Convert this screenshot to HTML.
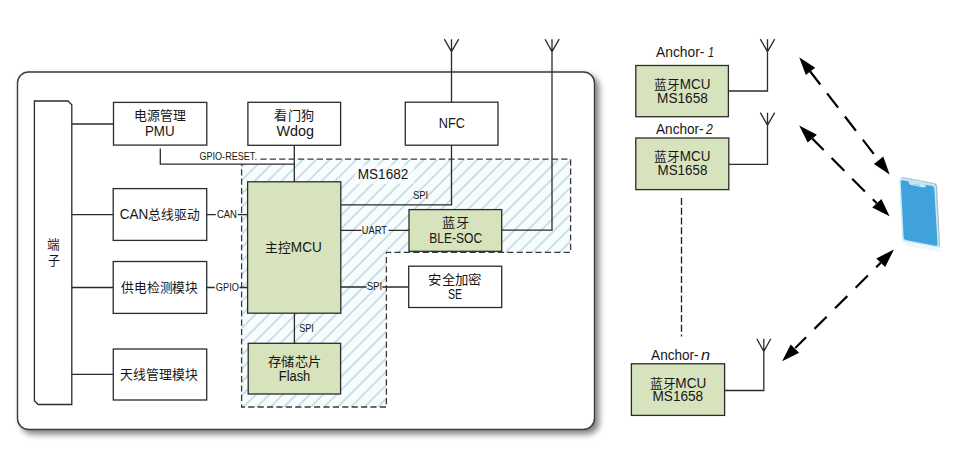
<!DOCTYPE html>
<html lang="zh-CN">
<head>
<meta charset="utf-8">
<style>
html,body{margin:0;padding:0;background:#fff;}
body{width:977px;height:457px;overflow:hidden;position:relative;font-family:"Liberation Sans",sans-serif;}
svg{position:absolute;left:0;top:0;}
svg text{font-family:"Liberation Sans",sans-serif;fill:#161616;}
.bx{fill:#fff;stroke:#2b2b2b;stroke-width:1.3;}
.gb{fill:#d7e3bd;stroke:#2b2b2b;stroke-width:1.3;}
.ln{fill:none;stroke:#2b2b2b;stroke-width:1.3;}
</style>
</head>
<body>
<svg width="977" height="457" viewBox="0 0 977 457">
<defs>
<pattern id="hatch" patternUnits="userSpaceOnUse" width="9.5" height="9.5" patternTransform="rotate(45)">
<rect width="9.5" height="9.5" fill="#f7fcfd"/>
<line x1="4" y1="0" x2="4" y2="9.5" stroke="#abcdd9" stroke-width="1.15"/>
</pattern>
<filter id="sh" x="-5%" y="-5%" width="115%" height="115%">
<feGaussianBlur in="SourceAlpha" stdDeviation="3"/>
<feOffset dx="3.5" dy="3.5" result="b"/>
<feComponentTransfer><feFuncA type="linear" slope="0.5"/></feComponentTransfer>
<feMerge><feMergeNode/><feMergeNode in="SourceGraphic"/></feMerge>
</filter>
</defs>

<!-- outer board -->
<rect x="17.5" y="72" width="577" height="357.5" rx="11" ry="11" fill="#fff" stroke="#3a3a3a" stroke-width="1.4" filter="url(#sh)"/>

<!-- hatched MS1682 region -->
<path d="M241.6 164.4 H294.3 V159.2 H570.6 V252.4 H386.4 V407 H241.6 Z" fill="url(#hatch)"/>
<path d="M241.6 159.2 H570.6 V252.4 H386.4 V407 H241.6 Z" fill="none" stroke="#3a3a3a" stroke-width="1.3" stroke-dasharray="6.2 3.2"/>
<rect x="355" y="165" width="59" height="19" fill="#fcfefe" opacity="0.65"/>
<rect x="240" y="150" width="17.5" height="14" fill="#fff"/>

<!-- antennas left -->
<path class="ln" d="M451.5 39.2 V102.2 M444.3 39.2 L451.5 51.6 L458.7 39.2"/>
<path class="ln" d="M552 39.2 V230.2 H501.7 M545 39.2 L552 51.6 L559.2 39.2"/>

<!-- 端子 -->
<path class="bx" d="M34.4 101 H68 L71.8 104.8 V404.5 H38.2 L34.4 400.7 Z"/>

<!-- connection lines from 端子 -->
<path class="ln" d="M71.8 124 H113.5 M71.8 214.6 H113.2 M71.8 287.5 H113.2 M71.8 374.4 H113.3"/>

<rect class="bx" x="113.5" y="102.4" width="93.3" height="42.7"/>
<rect class="bx" x="247.9" y="102.3" width="92.7" height="43"/>
<rect class="bx" x="405.3" y="102.2" width="92.7" height="43"/>
<rect class="bx" x="113.2" y="188.6" width="93.5" height="51.8"/>
<rect class="bx" x="113.2" y="261.5" width="93.5" height="51.9"/>
<rect class="bx" x="113.3" y="349" width="93.4" height="51"/>

<!-- GPIO-RESET line -->
<path class="ln" d="M160.3 148.4 V164.2 H294.3"/>
<!-- Wdog -> MCU -->
<path class="ln" d="M294.3 145.4 V181.8"/>
<!-- CAN / GPIO lines (broken around labels) -->
<path class="ln" d="M206.7 214.6 H215.8 M237.8 214.6 H247.6 M206.7 287.5 H214.8 M239.5 287.5 H247.6"/>

<!-- MCU -->
<rect class="gb" x="247.6" y="181.8" width="93.2" height="131.4"/>
<!-- MCU -> NFC SPI -->
<path class="ln" d="M340.8 204.8 H451.5 V145.2"/>
<!-- UART -->
<path class="ln" d="M340.8 230.3 H361.5 M388.5 230.3 H409"/>
<rect class="gb" x="409" y="209.6" width="92.7" height="41.7"/>
<!-- SE -->
<path class="ln" d="M340.8 287 H366.6 M382.3 287 H408.7"/>
<rect class="bx" x="408.7" y="266.2" width="93" height="41.3"/>
<!-- Flash -->
<path class="ln" d="M294.4 313.2 V343.3"/>
<rect class="gb" x="248.2" y="343.3" width="92.4" height="50.7"/>

<!-- anchors -->
<rect class="gb" x="635.8" y="65.5" width="92.6" height="51.2"/>
<path class="ln" d="M728.4 91 H767.5 V39.2 M760.3 39.2 L767.5 51.6 L774.7 39.2"/>
<rect class="gb" x="635.8" y="138" width="93" height="51.6"/>
<path class="ln" d="M728.8 164.4 H767.5 V112.7 M760.3 112.7 L767.5 125.1 L774.7 112.7"/>
<path d="M681.5 197.9 V336.4" fill="none" stroke="#1e1e1e" stroke-width="1.3" stroke-dasharray="7.2 2.55"/>
<rect class="gb" x="631.4" y="363.8" width="93.2" height="51.6"/>
<path class="ln" d="M724.6 390.5 H763.8 V338.8 M756.8 338.8 L763.8 351.4 L770.8 338.8"/>

<!-- dashed arrows -->
<g stroke="#000" stroke-width="2.2" fill="none" stroke-dasharray="18 11">
<path d="M810.25 71.54 L878.6 160.2" stroke-dasharray="18 11.2" stroke-dashoffset="1.6"/>
<path d="M812.3 138.65 L876.78 203.34" stroke-dasharray="18 11.2" stroke-dashoffset="1.9"/>
<path d="M880.76 262.71 L795.3 348" stroke-dasharray="17.3 11.8" stroke-dashoffset="10.9"/>
</g>
<g fill="#000">
<path d="M799.2 57.2 L805.8 75 L815.2 67.7 Z"/>
<path d="M889.6 174.5 L873.9 164 L883.3 156.5 Z"/>
<path d="M799.2 125.5 L807.7 142.6 L816.9 134.7 Z"/>
<path d="M889.6 216.2 L872.2 207.4 L881.4 199.1 Z"/>
<path d="M894 249.5 L876.3 258.4 L885.2 266.9 Z"/>
<path d="M782.1 361.2 L790.7 344.4 L799.1 352.7 Z"/>
</g>

<!-- phone -->
<g>
<path d="M904 242 L940 249 L941 252 L906 246 Z" fill="#eef3f7" opacity="0.8"/>
<path d="M900.55 179.60 Q900.40 176.60 903.35 177.16 L934.05 183.04 Q937.00 183.60 937.15 186.60 L940.05 244.70 Q940.20 247.70 937.25 247.16 L906.55 241.54 Q903.60 241.00 903.45 238.00 Z" fill="#a9bcc8"/>
<path d="M899.35 180.40 Q899.20 177.40 902.15 177.97 L932.75 183.83 Q935.70 184.40 935.86 187.40 L938.94 244.90 Q939.10 247.90 936.15 247.37 L905.25 241.83 Q902.30 241.30 902.15 238.30 Z" fill="#c4e9fa"/>
<path d="M900.81 182.10 Q900.70 179.90 902.86 180.31 L932.04 185.89 Q934.20 186.30 934.32 188.50 L937.48 243.90 Q937.60 246.10 935.44 245.68 L905.96 240.02 Q903.80 239.60 903.69 237.40 Z" fill="#3fa2da"/>
<path d="M908.4 181.3 Q908.8 184.6 911.3 185.1 L923.2 187.5 Q925.8 188 926.3 184.7 Z" fill="#c4e9fa"/>
<path d="M913.5 184.3 L920 185.6" stroke="#8fbfd8" stroke-width="0.8"/>
</g>

<g>
<text x="134.01" y="120.10" textLength="51.59" lengthAdjust="spacingAndGlyphs"><tspan style="font-size:13px">电源管理</tspan></text>
<text x="144.93" y="135.80" textLength="29.61" lengthAdjust="spacingAndGlyphs"><tspan style="font-size:13.8px">PMU</tspan></text>
<text x="274.49" y="120.10" textLength="39.42" lengthAdjust="spacingAndGlyphs"><tspan style="font-size:13px">看门狗</tspan></text>
<text x="276.50" y="135.60" textLength="37.49" lengthAdjust="spacingAndGlyphs"><tspan style="font-size:13.8px">Wdog</tspan></text>
<text x="438.78" y="127.90" textLength="26.15" lengthAdjust="spacingAndGlyphs"><tspan style="font-size:13.8px">NFC</tspan></text>
<text x="119.72" y="218.90" textLength="79.72" lengthAdjust="spacingAndGlyphs"><tspan style="font-size:13.8px">CAN</tspan><tspan style="font-size:13px">总线驱动</tspan></text>
<text x="121.30" y="291.90" textLength="76.60" lengthAdjust="spacingAndGlyphs"><tspan style="font-size:13px">供电检测模块</tspan></text>
<text x="120.41" y="379.20" textLength="77.29" lengthAdjust="spacingAndGlyphs"><tspan style="font-size:13px">天线管理模块</tspan></text>
<text x="265.32" y="251.90" textLength="56.40" lengthAdjust="spacingAndGlyphs"><tspan style="font-size:13px">主控</tspan><tspan style="font-size:13.8px">MCU</tspan></text>
<text x="442.28" y="226.90" textLength="26.54" lengthAdjust="spacingAndGlyphs"><tspan style="font-size:13px">蓝牙</tspan></text>
<text x="429.23" y="242.70" textLength="52.98" lengthAdjust="spacingAndGlyphs"><tspan style="font-size:13.8px">BLE-SOC</tspan></text>
<text x="428.27" y="283.90" textLength="53.46" lengthAdjust="spacingAndGlyphs"><tspan style="font-size:13px">安全加密</tspan></text>
<text x="447.93" y="298.70" textLength="14.18" lengthAdjust="spacingAndGlyphs"><tspan style="font-size:13.8px">SE</tspan></text>
<text x="268.08" y="365.80" textLength="52.94" lengthAdjust="spacingAndGlyphs"><tspan style="font-size:13px">存储芯片</tspan></text>
<text x="278.77" y="380.60" textLength="31.54" lengthAdjust="spacingAndGlyphs"><tspan style="font-size:13.8px">Flash</tspan></text>
<text x="357.72" y="178.80" textLength="50.57" lengthAdjust="spacingAndGlyphs"><tspan style="font-size:13.8px">MS1682</tspan></text>
<text x="199.40" y="160.00" textLength="57.55" lengthAdjust="spacingAndGlyphs"><tspan style="font-size:10.6px">GPIO-RESET.</tspan></text>
<text x="216.90" y="217.70" textLength="20.04" lengthAdjust="spacingAndGlyphs"><tspan style="font-size:10.6px">CAN</tspan></text>
<text x="215.80" y="290.50" textLength="23.14" lengthAdjust="spacingAndGlyphs"><tspan style="font-size:10.6px">GPIO</tspan></text>
<text x="412.90" y="199.00" textLength="15.37" lengthAdjust="spacingAndGlyphs"><tspan style="font-size:10.6px">SPI</tspan></text>
<text x="361.72" y="233.80" textLength="25.28" lengthAdjust="spacingAndGlyphs"><tspan style="font-size:10.6px">UART</tspan></text>
<text x="366.69" y="290.00" textLength="15.48" lengthAdjust="spacingAndGlyphs"><tspan style="font-size:10.6px">SPI</tspan></text>
<text x="299.14" y="331.70" textLength="14.69" lengthAdjust="spacingAndGlyphs"><tspan style="font-size:10.6px">SPI</tspan></text>
<text x="47.20" y="248.90" textLength="12.70" lengthAdjust="spacingAndGlyphs"><tspan style="font-size:13px">端</tspan></text>
<text x="47.50" y="265.40" textLength="12.00" lengthAdjust="spacingAndGlyphs"><tspan style="font-size:13px">子</tspan></text>
<text x="656.00" y="56.80" textLength="48.43" lengthAdjust="spacingAndGlyphs"><tspan style="font-size:14px">Anchor-</tspan></text>
<text x="708.00" y="56.80" textLength="6.01" lengthAdjust="spacingAndGlyphs"><tspan style="font-size:14px;font-style:italic">1</tspan></text>
<text x="656.00" y="133.80" textLength="47.63" lengthAdjust="spacingAndGlyphs"><tspan style="font-size:14px">Anchor-</tspan></text>
<text x="706.00" y="133.80" textLength="6.82" lengthAdjust="spacingAndGlyphs"><tspan style="font-size:14px;font-style:italic">2</tspan></text>
<text x="651.10" y="359.80" textLength="47.53" lengthAdjust="spacingAndGlyphs"><tspan style="font-size:14px">Anchor-</tspan></text>
<text x="701.00" y="359.80" textLength="9.13" lengthAdjust="spacingAndGlyphs"><tspan style="font-size:14px;font-style:italic">n</tspan></text>
<text x="654.42" y="89.20" textLength="56.09" lengthAdjust="spacingAndGlyphs"><tspan style="font-size:13px">蓝牙</tspan><tspan style="font-size:13.8px">MCU</tspan></text>
<text x="657.01" y="102.80" textLength="50.88" lengthAdjust="spacingAndGlyphs"><tspan style="font-size:13.8px">MS1658</tspan></text>
<text x="654.42" y="160.80" textLength="55.99" lengthAdjust="spacingAndGlyphs"><tspan style="font-size:13px">蓝牙</tspan><tspan style="font-size:13.8px">MCU</tspan></text>
<text x="657.53" y="175.10" textLength="49.85" lengthAdjust="spacingAndGlyphs"><tspan style="font-size:13.8px">MS1658</tspan></text>
<text x="649.71" y="387.70" textLength="56.60" lengthAdjust="spacingAndGlyphs"><tspan style="font-size:13px">蓝牙</tspan><tspan style="font-size:13.8px">MCU</tspan></text>
<text x="652.51" y="401.30" textLength="50.67" lengthAdjust="spacingAndGlyphs"><tspan style="font-size:13.8px">MS1658</tspan></text>
</g>
</svg>
</body>
</html>
